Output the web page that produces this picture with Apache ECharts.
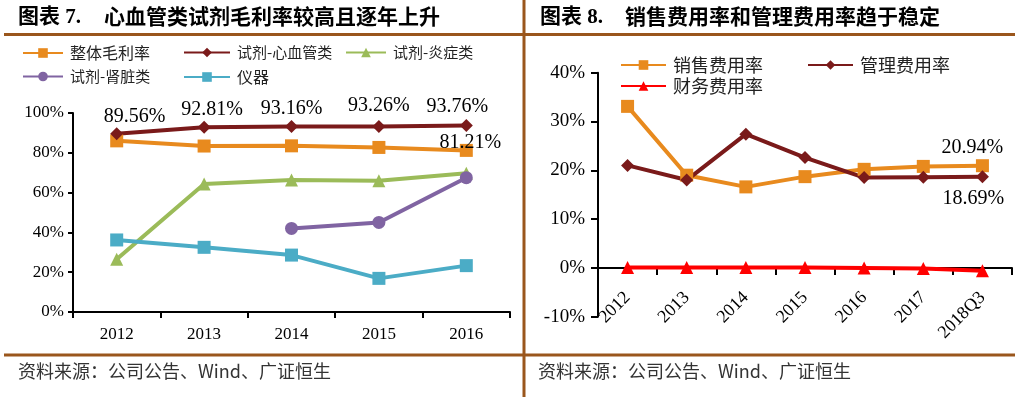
<!DOCTYPE html>
<html>
<head>
<meta charset="utf-8">
<script src="https://cdn.jsdelivr.net/npm/echarts@6/dist/echarts.min.js"></script>
<style>
  html, body { margin: 0; padding: 0; background: #fff; }
  #main { width: 1018px; height: 397px; }
</style>
</head>
<body>
<div id="main"></div>
<script>
// left chart data (gross margin)
var years = ['2012', '2013', '2014', '2015', '2016'];
var overallMargin = [86.0, 83.4, 83.5, 82.7, 81.21];
var cardioMargin = [89.56, 92.81, 93.16, 93.26, 93.76];
var inflamMargin = [26.5, 64.3, 66.3, 66.0, 69.7];
var kidneyMargin = [null, null, 42.0, 45.0, 67.5];
var instrumentMargin = [36.2, 32.5, 28.6, 16.9, 23.3];

// right chart data (expense ratios)
var periods = ['2012', '2013', '2014', '2015', '2016', '2017', '2018Q3'];
var salesRatio = [33.1, 19.0, 16.6, 18.7, 20.2, 20.8, 20.94];
var adminRatio = [21.0, 18.0, 27.4, 22.6, 18.5, 18.6, 18.69];
var financeRatio = [0.1, 0.1, 0.1, 0.1, 0.0, -0.1, -0.6];

var SERIF = "'Liberation Serif', 'Noto Sans CJK SC', serif";
var CJK = "'Noto Sans CJK SC', 'Liberation Serif', sans-serif";
var BROWN = '#9A561C';
var ORANGE = '#E88A1E';
var DARKRED = '#7A1A1A';

// label nudges for the cardio series, like in the original
var cardioLabelShift = [[18, 0], [8, 0], [0, 0], [0, -3], [-9, -1]];

var myChart = echarts.init(document.getElementById('main'), null, {
  renderer: 'canvas'
});

function pct(p) { return p.value.toFixed(2) + '%'; }

function lastLabel(arr, pos, offset) {
  return arr.map(function (v, i) {
    if (i !== arr.length - 1) return v;
    return {
      value: v,
      label: {
        show: true,
        position: pos,
        offset: offset,
        fontFamily: SERIF,
        fontSize: 20,
        color: '#000',
        formatter: pct
      }
    };
  });
}

function lineSeries(name, data, color, symbol, size, xi) {
  return {
    name: name,
    type: 'line',
    xAxisIndex: xi,
    yAxisIndex: xi,
    data: data,
    symbol: symbol,
    symbolSize: size,
    showAllSymbol: true,
    lineStyle: { color: color, width: 4 },
    itemStyle: { color: color },
    emphasis: { disabled: true },
    z: 3
  };
}

function legendAt(name, left, top, w, fs) {
  return {
    data: [name],
    left: left,
    top: top,
    itemWidth: w,
    itemHeight: 12,
    itemGap: 0,
    padding: 0,
    selectedMode: false,
    textStyle: { fontFamily: CJK, fontSize: fs, color: '#222', padding: [0, 0, 0, 2] }
  };
}

var cardioData = cardioMargin.map(function (v, i) {
  return { value: v, label: { offset: cardioLabelShift[i] } };
});

var option = {
  animation: false,
  textStyle: { fontFamily: SERIF },
  graphic: [
    // frame lines
    { type: 'rect', shape: { x: 4, y: 33, width: 1011, height: 3 }, style: { fill: BROWN }, silent: true },
    { type: 'rect', shape: { x: 4, y: 353.5, width: 1011, height: 3 }, style: { fill: BROWN }, silent: true },
    { type: 'rect', shape: { x: 522.5, y: 0, width: 3, height: 397 }, style: { fill: BROWN }, silent: true },
    // titles
    { type: 'text', left: 18, top: 7, style: { text: '图表 7.', font: "bold 21px 'Liberation Serif', 'Noto Sans CJK SC'", fill: '#000' } },
    { type: 'text', left: 104, top: 6, style: { text: '心血管类试剂毛利率较高且逐年上升', font: "bold 21px 'Noto Sans CJK SC'", fill: '#000' } },
    { type: 'text', left: 540, top: 7, style: { text: '图表 8.', font: "bold 21px 'Liberation Serif', 'Noto Sans CJK SC'", fill: '#000' } },
    { type: 'text', left: 625, top: 6, style: { text: '销售费用率和管理费用率趋于稳定', font: "bold 21px 'Noto Sans CJK SC'", fill: '#000' } },
    // sources
    { type: 'text', left: 18, top: 362, style: { text: '资料来源：公司公告、Wind、广证恒生', font: "18px 'Noto Sans CJK SC'", fill: '#333' } },
    { type: 'text', left: 538, top: 362, style: { text: '资料来源：公司公告、Wind、广证恒生', font: "18px 'Noto Sans CJK SC'", fill: '#333' } }
  ],
  legend: [
    legendAt('整体毛利率', 22, 45, 40, 16),
    legendAt('试剂-心血管类', 183, 45, 46, 15),
    legendAt('试剂-炎症类', 345, 45, 40, 15),
    legendAt('试剂-肾脏类', 22, 69, 40, 15),
    legendAt('仪器', 183, 69, 46, 16),
    legendAt('销售费用率', 620, 56, 45, 18),
    legendAt('管理费用率', 807, 56, 45, 18),
    legendAt('财务费用率', 620, 77, 45, 18)
  ],
  grid: [
    { left: 73, top: 113, width: 437, height: 199 },
    { left: 598, top: 72.7, width: 414, height: 244 }
  ],
  xAxis: [
    {
      type: 'category',
      gridIndex: 0,
      data: years,
      boundaryGap: true,
      axisLine: { lineStyle: { color: '#000', width: 2 } },
      axisTick: { show: true, interval: 0, length: 6, lineStyle: { color: '#000', width: 2 } },
      axisLabel: { fontFamily: SERIF, fontSize: 17, color: '#000', margin: 14 }
    },
    {
      type: 'category',
      gridIndex: 1,
      data: periods,
      boundaryGap: true,
      axisLine: { onZero: true, lineStyle: { color: '#000', width: 2 } },
      axisTick: { show: true, interval: 0, length: 7, lineStyle: { color: '#000', width: 2 } },
      axisLabel: { fontFamily: SERIF, fontSize: 18, color: '#000', rotate: 45, margin: -22, interval: 0 }
    }
  ],
  yAxis: [
    {
      type: 'value',
      gridIndex: 0,
      min: 0,
      max: 100,
      interval: 20,
      axisLine: { show: true, lineStyle: { color: '#000', width: 2 } },
      axisTick: { show: true, length: 5, lineStyle: { color: '#000', width: 2 } },
      splitLine: { show: false },
      axisLabel: { fontFamily: SERIF, fontSize: 17, color: '#000', margin: 9, formatter: '{value}%' }
    },
    {
      type: 'value',
      gridIndex: 1,
      min: -10,
      max: 40,
      interval: 10,
      axisLine: { show: true, lineStyle: { color: '#000', width: 2 } },
      axisTick: { show: true, length: 7, lineStyle: { color: '#000', width: 2 } },
      splitLine: { show: false },
      axisLabel: { fontFamily: SERIF, fontSize: 19, color: '#000', margin: 13, formatter: '{value}%' }
    }
  ],
  series: [
    lineSeries('整体毛利率', lastLabel(overallMargin, 'top', [4, 14]), ORANGE, 'rect', 13, 0),
    Object.assign(lineSeries('试剂-心血管类', cardioData, DARKRED, 'diamond', 13, 0), {
      label: {
        show: true,
        position: 'top',
        distance: 1,
        fontFamily: SERIF,
        fontSize: 20,
        color: '#000',
        formatter: pct
      }
    }),
    lineSeries('试剂-炎症类', inflamMargin, '#9BBB59', 'triangle', 13, 0),
    lineSeries('试剂-肾脏类', kidneyMargin, '#8064A2', 'circle', 13, 0),
    lineSeries('仪器', instrumentMargin, '#4BACC6', 'rect', 13, 0),
    lineSeries('销售费用率', lastLabel(salesRatio, 'top', [-10, 4]), ORANGE, 'rect', 13, 1),
    lineSeries('管理费用率', lastLabel(adminRatio, 'bottom', [-9, 1]), DARKRED, 'diamond', 13, 1),
    lineSeries('财务费用率', financeRatio, '#FF0000', 'triangle', 13, 1)
  ]
};

if (option && typeof option === 'object') {
  myChart.setOption(option);
}

window.addEventListener('resize', myChart.resize);
</script>
</body>
</html>
